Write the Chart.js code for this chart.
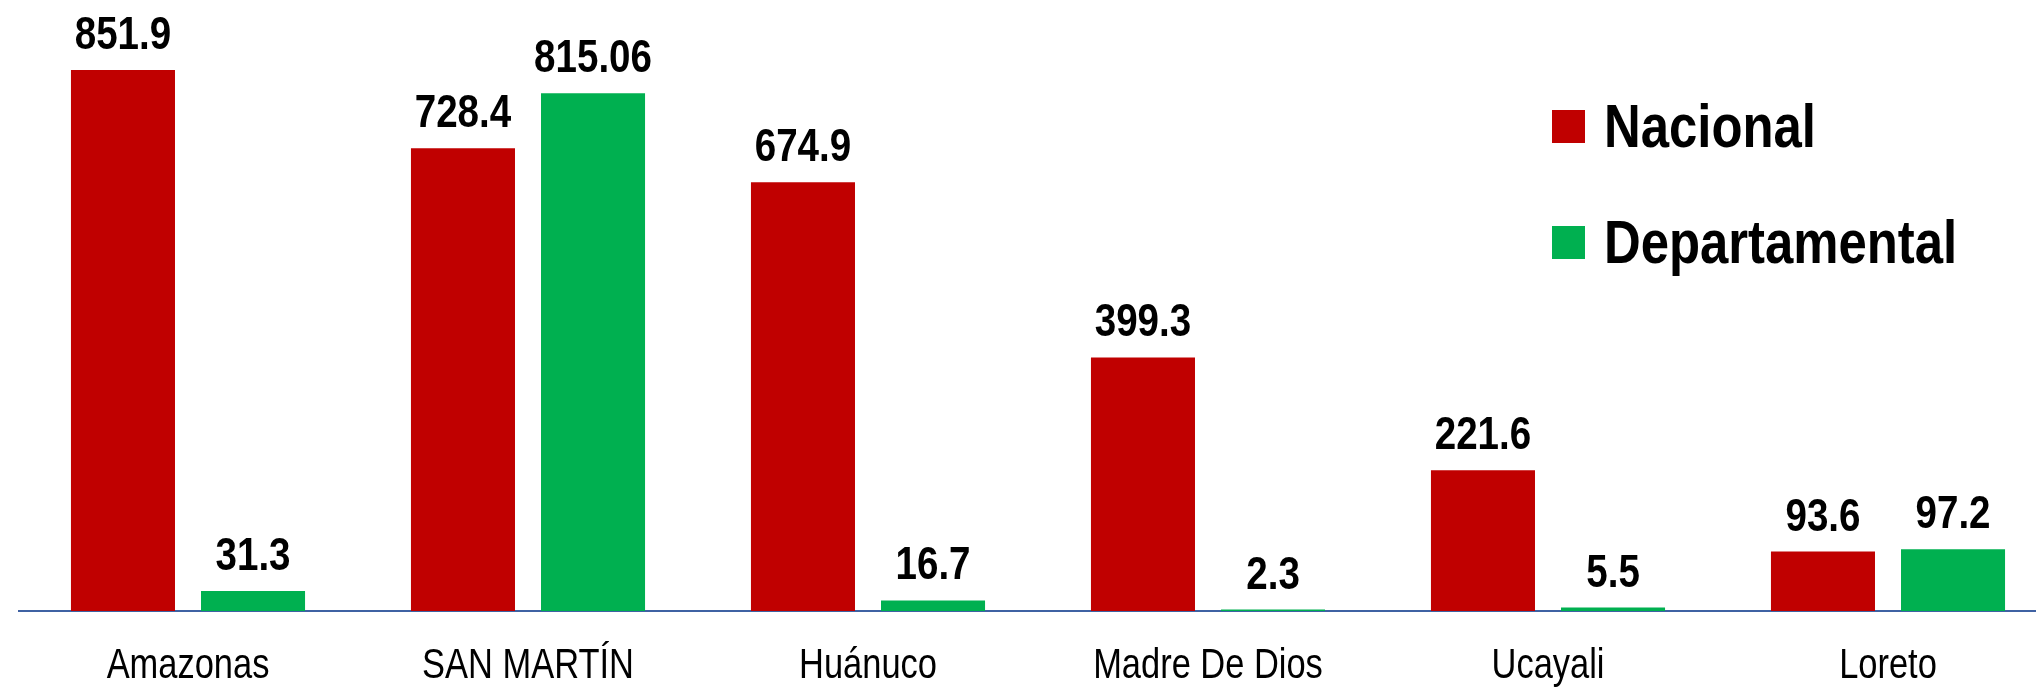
<!DOCTYPE html>
<html>
<head>
<meta charset="utf-8">
<script src="https://cdn.jsdelivr.net/npm/chart.js@4.4.1/dist/chart.umd.min.js"></script>
<style>
	html, body { margin: 0; padding: 0; background: #fff; overflow: hidden; }
	#wrap { position: absolute; left: 18px; top: 0; width: 2040px; height: 687px; }
</style>
</head>
<body>
<div id="wrap"><canvas id="barChart" width="2040" height="687"></canvas></div>
<script>
	var categories = ['Amazonas', 'SAN MARTÍN', 'Huánuco', 'Madre De Dios', 'Ucayali', 'Loreto'];
	var nacional = [851.9, 728.4, 674.9, 399.3, 221.6, 93.6];
	var departamental = [31.3, 815.06, 16.7, 2.3, 5.5, 97.2];
	var seriesNames = ['Nacional', 'Departamental'];
	var seriesColors = ['#C00000', '#00B050'];

	var sans = "'Liberation Sans', Arial, sans-serif";
	var squeeze = 0.82; // no Arial Narrow here, so squeeze Liberation Sans by hand

	function narrowText(ctx, text, x, y){
		ctx.save();
		ctx.translate(x, y);
		ctx.scale(squeeze, 1);
		ctx.fillText(text, 0, 0);
		ctx.restore();
	}

	// category names under the axis
	var catLabels = {
		id: 'catLabels',
		afterDraw: function(chart){
			var ctx = chart.ctx;
			var xScale = chart.scales.x;
			ctx.save();
			ctx.font = '42px ' + sans;
			ctx.fillStyle = '#000';
			ctx.textAlign = 'center';
			ctx.textBaseline = 'alphabetic';
			chart.data.labels.forEach(function(lbl, i){
				narrowText(ctx, lbl, xScale.getPixelForValue(i), xScale.top + 67);
			});
			ctx.restore();
		}
	};

	// numbers above each bar
	var valueLabels = {
		id: 'valueLabels',
		afterDatasetsDraw: function(chart){
			var ctx = chart.ctx;
			ctx.save();
			ctx.font = 'bold 47px ' + sans;
			ctx.fillStyle = '#000';
			ctx.textAlign = 'center';
			ctx.textBaseline = 'alphabetic';
			chart.data.datasets.forEach(function(ds, i){
				var meta = chart.getDatasetMeta(i);
				meta.data.forEach(function(bar, j){
					narrowText(ctx, String(ds.data[j]), bar.x, bar.y - 21);
				});
			});
			ctx.restore();
		}
	};

	// legend box at the top right
	var sideLegend = {
		id: 'sideLegend',
		afterDraw: function(chart){
			var ctx = chart.ctx;
			ctx.save();
			ctx.font = 'bold 62px ' + sans;
			ctx.textBaseline = 'alphabetic';
			ctx.textAlign = 'left';
			chart.data.datasets.forEach(function(ds, i){
				var top = 110 + i * 116;
				ctx.fillStyle = ds.backgroundColor;
				ctx.fillRect(1534, top, 33, 33);
				ctx.fillStyle = '#000';
				narrowText(ctx, ds.label, 1586, top + 37);
			});
			ctx.restore();
		}
	};

	var ctxEl = document.getElementById('barChart').getContext('2d');
	var barChart = new Chart(ctxEl, {
		type: 'bar',
		data: {
			labels: categories,
			datasets: [{
				label: seriesNames[0],
				data: nacional,
				backgroundColor: seriesColors[0]
			}, {
				label: seriesNames[1],
				data: departamental,
				backgroundColor: seriesColors[1]
			}]
		},
		options: {
			responsive: false,
			animation: false,
			barPercentage: 0.8,
			categoryPercentage: 0.765,
			layout: { padding: 0 },
			plugins: {
				legend: { display: false },
				tooltip: { enabled: false }
			},
			scales: {
				x: {
					grid: { display: false, drawTicks: false },
					border: { display: true, color: '#3F62A3', width: 2 },
					ticks: { display: false },
					afterFit: function(scale){
						scale.height = 76;
					}
				},
				y: {
					display: false,
					min: 0,
					max: 962
				}
			}
		},
		plugins: [valueLabels, catLabels, sideLegend]
	});
</script>
</body>
</html>
